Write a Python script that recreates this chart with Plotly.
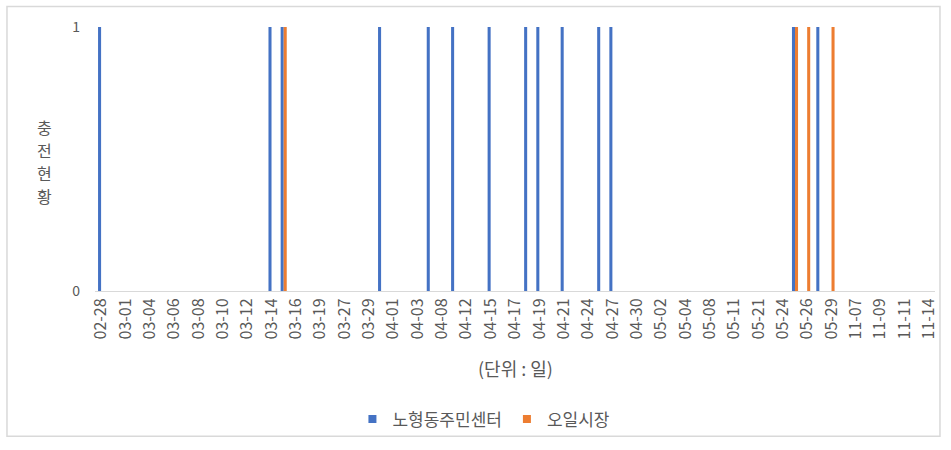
import plotly.graph_objects as go

# Category axis: every data date (only every other one is labelled, as in the reference)
dates = [
    "02-28", "02-29", "03-01", "03-02", "03-04", "03-05", "03-06", "03-07", "03-08", "03-09",
    "03-10", "03-11", "03-12", "03-13", "03-14", "03-15", "03-16", "03-18", "03-19", "03-20",
    "03-27", "03-28", "03-29", "03-30", "04-01", "04-02", "04-03", "04-06", "04-08", "04-10",
    "04-12", "04-14", "04-15", "04-16", "04-17", "04-18", "04-19", "04-20", "04-21", "04-23",
    "04-24", "04-26", "04-27", "04-29", "04-30", "05-01", "05-02", "05-03", "05-04", "05-06",
    "05-08", "05-10", "05-11", "05-20", "05-21", "05-22", "05-24", "05-25", "05-26", "05-28",
    "05-29", "06-01", "11-07", "11-08", "11-09", "11-10", "11-11", "11-13", "11-14",
]

# Series values (1 = charged that day)
nohyeong = [
    1, 0, 0, 0, 0, 0, 0, 0, 0, 0,
    0, 0, 0, 0, 1, 1, 0, 0, 0, 0,
    0, 0, 0, 1, 0, 0, 0, 1, 0, 1,
    0, 0, 1, 0, 0, 1, 1, 0, 1, 0,
    0, 1, 1, 0, 0, 0, 0, 0, 0, 0,
    0, 0, 0, 0, 0, 0, 0, 1, 0, 1,
    0, 0, 0, 0, 0, 0, 0, 0, 0,
]
oil_market = [
    0, 0, 0, 0, 0, 0, 0, 0, 0, 0,
    0, 0, 0, 0, 0, 1, 0, 0, 0, 0,
    0, 0, 0, 0, 0, 0, 0, 0, 0, 0,
    0, 0, 0, 0, 0, 0, 0, 0, 0, 0,
    0, 0, 0, 0, 0, 0, 0, 0, 0, 0,
    0, 0, 0, 0, 0, 0, 0, 1, 1, 0,
    1, 0, 0, 0, 0, 0, 0, 0, 0,
]

# Tick labels shown on the axis (every other category)
tick_labels = dates[::2]

series_names = ["노형동주민센터", "오일시장"]
series_colors = ["#4472C4", "#ED7D31"]
y_title_chars = ["충", "전", "현", "황"]
x_title = "(단위 : 일)"

FONT = "Noto Sans CJK KR"
GRAY = "#595959"

fig = go.Figure()
for name, vals, col in zip(series_names, [nohyeong, oil_market], series_colors):
    fig.add_trace(go.Bar(x=dates, y=vals, name=name, marker_color=col,
                         marker_line_width=0, showlegend=False, legendgroup=name))
# legend entries with small square markers (as in the reference)
for name, col in zip(series_names, series_colors):
    fig.add_trace(go.Scatter(x=[None], y=[None], mode="markers", name=name,
                             legendgroup=name,
                             marker=dict(symbol="square", size=8, color=col)))

W, H = 951, 450
L, R, T, B = 95.4, 12, 27, 154
pw, ph = W - L - R, H - T - B

def px(x):
    return (x - L) / pw

def py(y):
    return (H - B - y) / ph

annotations = []
for ch, yy in zip(y_title_chars, [129, 152, 176, 199]):
    annotations.append(dict(text=ch, x=px(45), y=py(yy), xref="paper", yref="paper",
                            showarrow=False, xanchor="center", yanchor="middle",
                            font=dict(family=FONT, size=16, color=GRAY)))
annotations.append(dict(text=x_title, x=0.5, y=py(374), xref="paper", yref="paper",
                        showarrow=False, xanchor="center", yanchor="middle",
                        font=dict(family=FONT, size=18, color=GRAY)))

fig.update_layout(
    width=W, height=H,
    margin=dict(l=L, r=R, t=T, b=B, pad=0),
    paper_bgcolor="white", plot_bgcolor="white",
    barmode="group", bargap=0.5, bargroupgap=0,
    font=dict(family=FONT, color=GRAY, size=13),
    showlegend=True,
    legend=dict(orientation="h", x=px(486), y=py(427), xanchor="center", yanchor="middle",
                font=dict(family=FONT, size=17, color=GRAY), itemwidth=30,
                bgcolor="rgba(0,0,0,0)"),
    xaxis=dict(type="category", categoryorder="array", categoryarray=dates,
               tickmode="array", tickvals=tick_labels, ticktext=tick_labels,
               tickangle=-90, showgrid=False, zeroline=False,
               showline=True, linecolor="#d9d9d9", linewidth=1, ticks="",
               tickfont=dict(family=FONT, size=16, color=GRAY)),
    yaxis=dict(range=[0, 1], tickmode="array", tickvals=[0, 1], ticktext=["0", "1"],
               showgrid=False, zeroline=False, showline=False, ticks="",
               ticklabelstandoff=14,
               tickfont=dict(family=FONT, size=14, color=GRAY)),
    annotations=annotations,
    shapes=[dict(type="rect", xref="paper", yref="paper",
                 x0=px(7), x1=px(944), y0=py(444), y1=py(6),
                 line=dict(color="#d9d9d9", width=1.5), fillcolor="rgba(0,0,0,0)",
                 layer="below")],
)

fig.write_html("out.html")
